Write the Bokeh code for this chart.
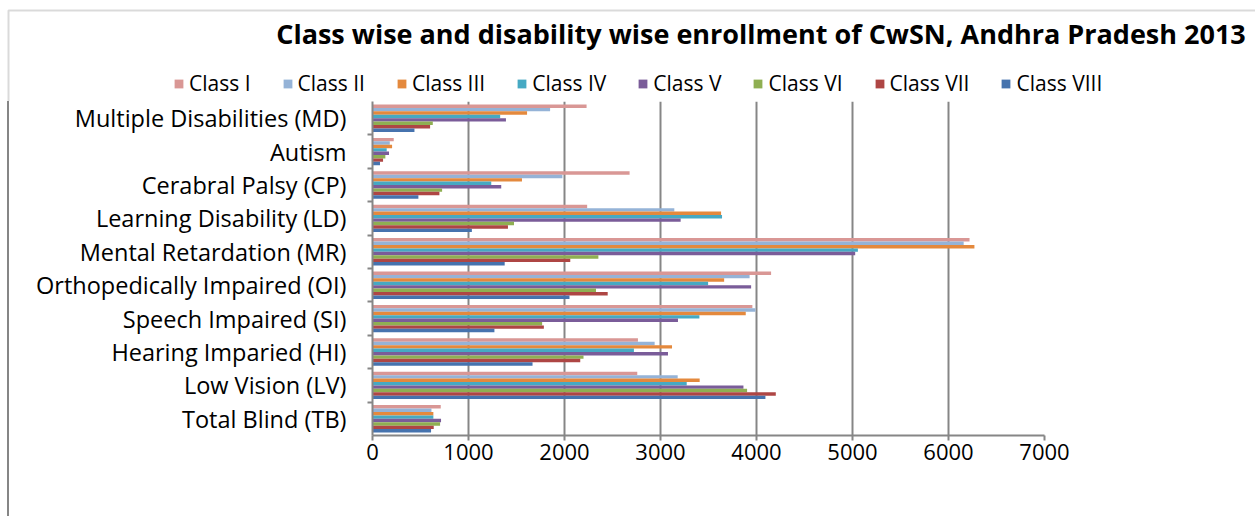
from bokeh.plotting import figure
from bokeh.layouts import column
from bokeh.models import (FactorRange, Range1d, CategoricalAxis, FixedTicker, InlineStyleSheet,
                          Legend, LegendItem, Label, BoxAnnotation, ColumnDataSource)
from bokeh.transform import dodge
from bokeh.embed import file_html
from bokeh.resources import INLINE

# categories bottom -> top
categories = ["Total Blind (TB)", "Low Vision (LV)", "Hearing Imparied (HI)", "Speech Impaired (SI)",
              "Orthopedically Impaired (OI)", "Mental Retardation (MR)", "Learning Disability (LD)",
              "Cerabral Palsy (CP)", "Autism", "Multiple Disabilities (MD)"]
classes = ["Class I", "Class II", "Class III", "Class IV", "Class V", "Class VI", "Class VII", "Class VIII"]

class_1 = [711, 2758, 2765, 3957, 4152, 6219, 2236, 2678, 221, 2230]
class_2 = [614, 3179, 2939, 3989, 3928, 6158, 3144, 1978, 180, 1850]
class_3 = [634, 3408, 3120, 3888, 3663, 6270, 3631, 1557, 204, 1610]
class_4 = [634, 3273, 2723, 3405, 3496, 5056, 3641, 1237, 148, 1330]
class_5 = [714, 3864, 3078, 3182, 3944, 5028, 3210, 1341, 172, 1390]
class_6 = [704, 3902, 2198, 1767, 2328, 2353, 1474, 725, 134, 628]
class_7 = [638, 4201, 2164, 1785, 2450, 2060, 1411, 697, 110, 600]
class_8 = [610, 4093, 1667, 1270, 2052, 1377, 1035, 478, 78, 437]
series = [class_1, class_2, class_3, class_4, class_5, class_6, class_7, class_8]

x_ticks = [0, 1000, 2000, 3000, 4000, 5000, 6000, 7000]
title_text = "Class wise and  disability wise enrollment of CwSN, Andhra Pradesh 2013"

colors = ["#D99795", "#95B3D7", "#E4893D", "#46A9C3", "#7A5C99", "#8FAF52", "#AE4644", "#4673AE"]
GREY = "#868686"
FONT = "Open Sans"

data = {"cat": categories}
for c, vals in zip(classes, series):
    data[c] = vals
src = ColumnDataSource(data)

# ---------------- header: title + legend ----------------
head = figure(width=1255, height=101, x_range=Range1d(0, 1255), y_range=Range1d(101, 0),
              output_backend="svg", toolbar_location=None, x_axis_location=None, y_axis_location=None,
              min_border=0)
head.title = None
head.outline_line_color = None
head.xgrid.visible = False
head.ygrid.visible = False
head.add_layout(Label(x=764, y=33, text=title_text, text_font=FONT, text_font_style="bold",
                      text_font_size="27px", text_align="center", text_baseline="middle",
                      text_color="black"))
head.add_layout(BoxAnnotation(left=8, right=1400, top=10, bottom=300, fill_alpha=0,
                              line_color=GREY, line_width=2))
# legend proxies (zero-width, outside the visible header area)
proxy_src = ColumnDataSource({"y": [-500], "r": [0]})
items = []
for i, c in enumerate(classes):
    r = head.hbar(y="y", right="r", left=0, height=1, source=proxy_src,
                  fill_color=colors[i], line_color=None)
    items.append(LegendItem(label=c, renderers=[r]))
legend = Legend(items=items, orientation="horizontal", location=(173, 4),
                glyph_width=11, glyph_height=11, label_standoff=5, spacing=31, padding=0, margin=0,
                border_line_color=None, background_fill_alpha=0,
                label_text_font=FONT, label_text_font_size="21px", label_text_color="black")
head.add_layout(legend)

# ---------------- main chart ----------------
p = figure(width=1255, height=415,
           y_range=FactorRange(factors=categories, range_padding=0),
           x_range=Range1d(0, 7000),
           output_backend="svg", toolbar_location=None, y_axis_location=None,
           min_border_left=372, min_border_right=211, min_border_top=0, min_border_bottom=81)
p.title = None
p.outline_line_color = None
p.background_fill_color = "white"
p.border_fill_color = "white"

for fig in (head, p):
    if "frame_align" in fig.properties():
        fig.frame_align = False

p.xaxis.ticker = FixedTicker(ticks=x_ticks)
p.xaxis.axis_line_color = GREY
p.xaxis.axis_line_width = 2
p.xaxis.major_tick_line_color = GREY
p.xaxis.major_tick_line_width = 2
p.xaxis.major_tick_out = 5
p.xaxis.major_tick_in = 0
p.xaxis.minor_tick_line_color = None
p.xaxis.major_label_text_font = FONT
p.xaxis.major_label_text_font_size = "22px"
p.xaxis.major_label_text_color = "black"
p.xaxis.major_label_standoff = 3
p.xgrid.ticker = FixedTicker(ticks=x_ticks)
p.xgrid.grid_line_color = GREY
p.xgrid.grid_line_width = 2
p.ygrid.grid_line_color = None

# boundary tick axis: a factor range shifted by half a unit so its ticks fall on group boundaries
bounds = ["b%d" % k for k in range(len(categories) + 1)]
p.extra_y_ranges = {"bnd": FactorRange(factors=bounds, range_padding=-0.5, range_padding_units="absolute")}
tick_axis = CategoricalAxis(y_range_name="bnd", major_label_text_color=None, major_label_text_font_size="1px",
                            axis_line_color=GREY, axis_line_width=2,
                            major_tick_line_color=GREY, major_tick_line_width=2, major_tick_out=5,
                            major_tick_in=0, minor_tick_line_color=None, major_label_standoff=0)
p.add_layout(tick_axis, "left")
cat_axis = CategoricalAxis(axis_line_color=None, major_tick_line_color=None,
                           major_label_text_font=FONT, major_label_text_font_size="23.5px",
                           major_label_text_color="black", major_label_standoff=15)
p.add_layout(cat_axis, "left")

bar_h = 0.1025
for i, c in enumerate(classes):
    p.hbar(y=dodge("cat", (3.5 - i) * bar_h, range=p.y_range), right=c, left=0,
           height=bar_h, source=src, fill_color=colors[i], line_color=None)

p.stylesheets = [InlineStyleSheet(css=(
    ":host{position:relative;}"
    ":host::after{content:'';position:absolute;left:7px;top:0;bottom:0;width:0;"
    "border-left:2px solid #868686;pointer-events:none;}"))]

layout = column(head, p, spacing=0)
open("out.html", "w").write(file_html(layout, INLINE))
